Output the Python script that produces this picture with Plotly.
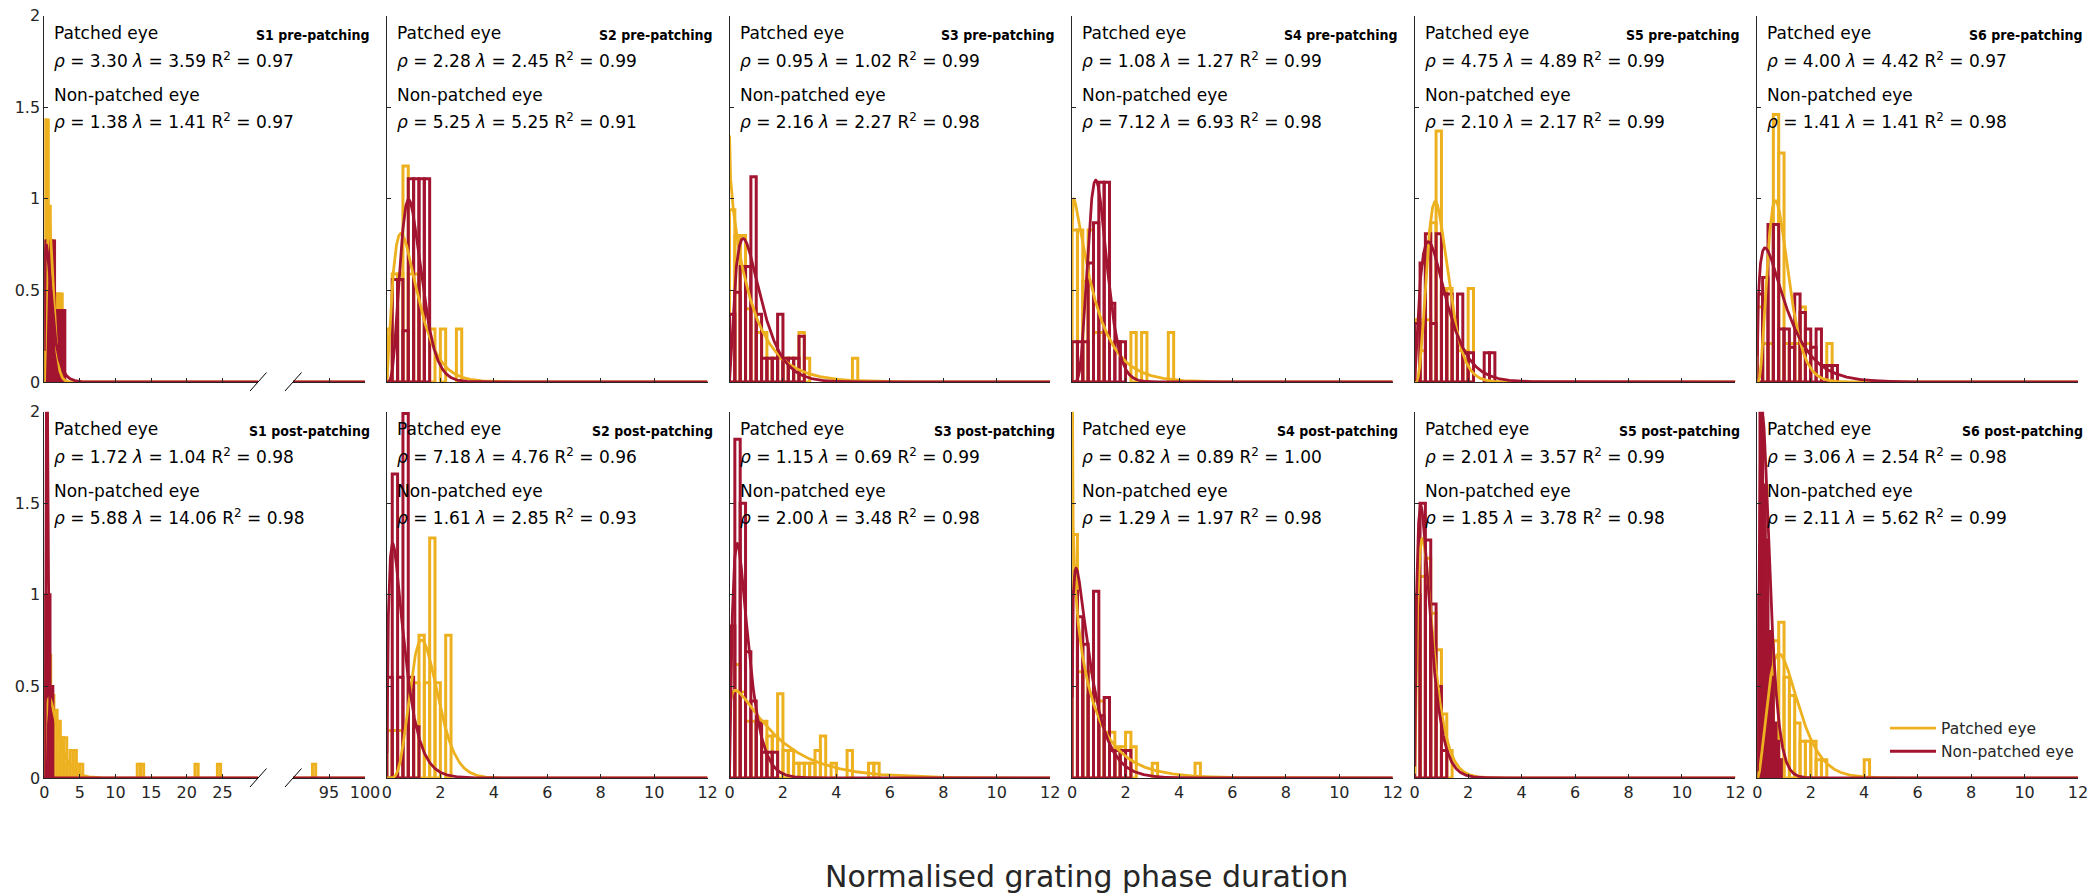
import math
import numpy as np
import plotly.graph_objects as go

W, H = 2093, 896
YELLOW = '#EDB120'
RED = '#A2142F'
FONT = 'DejaVu Sans'

subjects = ['S1', 'S2', 'S3', 'S4', 'S5', 'S6']
phases = ['pre-patching', 'post-patching']

# gamma fit parameters [row][col]
rho_p = [[3.30, 2.28, 0.95, 1.08, 4.75, 4.00], [1.72, 7.18, 1.15, 0.82, 2.01, 3.06]]
lam_p = [[3.59, 2.45, 1.02, 1.27, 4.89, 4.42], [1.04, 4.76, 0.69, 0.89, 3.57, 2.54]]
r2_p = [[0.97, 0.99, 0.99, 0.99, 0.99, 0.97], [0.98, 0.96, 0.99, 1.00, 0.99, 0.98]]
rho_n = [[1.38, 5.25, 2.16, 7.12, 2.10, 1.41], [5.88, 1.61, 2.00, 1.29, 1.85, 2.11]]
lam_n = [[1.41, 5.25, 2.27, 6.93, 2.17, 1.41], [14.06, 2.85, 3.48, 1.97, 3.78, 5.62]]
r2_n = [[0.97, 0.91, 0.98, 0.98, 0.99, 0.98], [0.98, 0.93, 0.98, 0.98, 0.98, 0.99]]

# histogram bin widths and heights (bins start at 0)
bw_p = [[0.28, 0.2, 0.2, 0.2, 0.2, 0.2], [0.45, 0.2, 0.2, 0.2, 0.2, 0.2]]
bw_n = [[0.36, 0.2, 0.2, 0.2, 0.2, 0.2], [0.4, 0.2, 0.2, 0.2, 0.2, 0.1]]

hist_p = [
    [
        [1.43, 1.43, 0.96, 0.77, 0.77, 0.48, 0.48, 0.48, 0.48],
        [0.29, 0.59, 0.59, 1.18, 0.59, 0.59, 0.59, 0, 0.29, 0, 0.29, 0, 0, 0.29],
        [0.94, 0.80, 0.80, 0.40, 0.40, 0.27, 0.27, 0.13, 0.13, 0.13, 0.13, 0.13, 0.13, 0.27, 0.13,
         0, 0, 0, 0, 0, 0, 0, 0, 0.13],
        [0.83, 0.83, 0.55, 0.83, 0.27, 0.27, 0.27, 0, 0, 0, 0, 0.27, 0, 0.27, 0, 0, 0, 0, 0.27],
        [0.34, 0.17, 0.34, 0.87, 1.37, 0.51, 0.51, 0.34, 0.17, 0.17, 0.51],
        [0.41, 0.21, 0.21, 1.46, 1.25, 0.21, 0.21, 0.21, 0.41, 0.21, 0, 0, 0, 0.21],
    ],
    [
        [0.60, 0.67, 0.45, 0.37, 0.31, 0.22, 0.22, 0.075, 0.15, 0.15, 0.075, 0.075],
        [0.26, 0.26, 0.26, 0, 0.52, 0.52, 0.78, 0.52, 1.31, 0.52, 0, 0.78],
        [0.47, 0.62, 0.47, 0.31, 0.31, 0.31, 0.31, 0.23, 0.23, 0.46, 0.15, 0.15, 0.08, 0.08, 0.08,
         0.08, 0.15, 0.23, 0, 0.08, 0, 0, 0.15, 0, 0, 0, 0.08, 0.08],
        [1.33, 0.58, 0.58, 0.58, 0.42, 0.42, 0.25, 0.25, 0.17, 0.17, 0.25, 0.17, 0, 0, 0, 0.08,
         0, 0, 0, 0, 0, 0, 0, 0.08],
        [0.75, 1.10, 1.20, 0.90, 0.70, 0.35, 0.15],
        [0.25, 0.45, 0.75, 0.75, 0.85, 0.55, 0.45, 0.30, 0.20, 0.20, 0.20, 0.10, 0.10, 0, 0, 0,
         0, 0, 0, 0, 0.10],
    ],
]
hist_n = [
    [
        [0.77, 0.77, 0.77, 0.77, 0.39, 0.39, 0.39, 0.39],
        [0, 0.56, 0.56, 0.28, 1.11, 1.11, 1.11, 1.11],
        [0.37, 0.49, 0.63, 0.63, 1.12, 0.37, 0.13, 0.13, 0.13, 0.37, 0.13, 0.13, 0.13, 0.25],
        [0.22, 0.22, 0.22, 0.65, 0.87, 1.09, 1.09, 0.43, 0.22, 0.22],
        [0.32, 0.65, 0.81, 0.32, 0.81, 0.48, 0.48, 0.32, 0.48, 0.16, 0.16, 0, 0, 0.16, 0.16],
        [0.48, 0.57, 0.86, 0.86, 0.29, 0.29, 0.19, 0.48, 0.38, 0.29, 0.19, 0.29, 0.09, 0.09, 0.09],
    ],
    [
        [1.0, 1.0, 0.5],
        [0.55, 1.66, 0.55, 1.99, 0.55, 0.28],
        [0.83, 1.85, 1.50, 0.69, 0.42, 0.30, 0.14, 0.14, 0.14],
        [1.02, 0.88, 0.73, 0.45, 1.02, 0.34, 0.44, 0.15, 0.15, 0.15, 0.15],
        [1.00, 1.50, 1.30, 0.95, 0.50, 0.15],
        [1.0, 2.0, 1.6, 1.3, 0.8, 0.55, 0.3, 0.2, 0.1],
    ],
]
# S1 post-patching, patched eye: isolated long phases (bin left edges)
s1_post_out_x = [13.05, 13.5, 21.15, 24.3, 92.7]
s1_post_out_h = [0.075, 0.075, 0.075, 0.075, 0.075]

# geometry (pixels)
L0, CW, PW = 44.3, 342.6, 320.7
ROW_TOP = [15.7, 411.7]
PH = 366.3
S1_LEFT_END, S1_RIGHT_START = 258.0, 293.0
BAR_LW = 3
CURVE_LW = 2.8


def px_x(p):
    return p / W


def px_y(p):
    return 1 - p / H


def gpdf(x, k, lam):
    return lam ** k * x ** (k - 1) * np.exp(-lam * x) / math.gamma(k)


fig = go.Figure()
layout = {}
annotations = []
shapes = []


def axname(n, kind):
    return kind if n == 1 else f'{kind}{n}'


def bar_marker(col):
    return dict(color='rgba(0,0,0,0)', line=dict(color=col, width=BAR_LW))


for r in range(2):
    for c in range(6):
        n = r * 6 + 1 + c
        xa, ya = axname(n, 'x'), axname(n, 'y')
        left = L0 + c * CW
        right = left + PW
        top = ROW_TOP[r]
        bottom = top + PH
        broken = (c == 0)
        xdom_right = S1_LEFT_END if broken else right
        common = dict(ticks='inside', ticklen=4, tickcolor='#262626', showline=True,
                      linecolor='#262626', linewidth=1, showgrid=False, zeroline=False,
                      automargin=False,
                      tickfont=dict(size=16, family=FONT, color='#262626'), fixedrange=True)
        xaxis = dict(domain=[px_x(left), px_x(xdom_right)], anchor=ya,
                     range=[0, 30] if broken else [0, 12],
                     tickvals=[0, 5, 10, 15, 20, 25] if broken else [0, 2, 4, 6, 8, 10, 12],
                     showticklabels=(r == 1), **common)
        yaxis = dict(domain=[px_y(bottom), px_y(top)], anchor=xa, range=[0, 2],
                     tickvals=[0, 0.5, 1, 1.5, 2], ticktext=['0', '0.5', '1', '1.5', '2'],
                     showticklabels=(c == 0), **common)
        layout['xaxis' if n == 1 else f'xaxis{n}'] = xaxis
        layout['yaxis' if n == 1 else f'yaxis{n}'] = yaxis
        x_targets = [(xa, 0, 30 if broken else 12)]
        if broken:
            m = 13 + r
            xr = f'x{m}'
            layout[f'xaxis{m}'] = dict(domain=[px_x(S1_RIGHT_START), px_x(right)], anchor=ya,
                                       range=[90, 100], tickvals=[95, 100],
                                       showticklabels=(r == 1), **common)
            x_targets.append((xr, 90, 100))
            for xe in (S1_LEFT_END, S1_RIGHT_START):
                shapes.append(dict(type='line', xref='paper', yref='paper',
                                   x0=px_x(xe - 8), y0=px_y(bottom + 9),
                                   x1=px_x(xe + 8.5), y1=px_y(bottom - 9.5),
                                   line=dict(color='black', width=1)))

        # histograms
        for hs, w, col in ((hist_p[r][c], bw_p[r][c], YELLOW), (hist_n[r][c], bw_n[r][c], RED)):
            xs = [(i + 0.5) * w for i, h in enumerate(hs) if h > 0]
            ys = [h for h in hs if h > 0]
            if broken and r == 1 and col == YELLOW:
                for ox, oh in zip(s1_post_out_x, s1_post_out_h):
                    if ox < 30:
                        xs.append(ox + w / 2)
                        ys.append(oh)
                fig.add_trace(go.Bar(x=[ox + w / 2 for ox in s1_post_out_x if ox > 90],
                                     y=[oh for ox, oh in zip(s1_post_out_x, s1_post_out_h) if ox > 90],
                                     width=w, xaxis=x_targets[1][0], yaxis=ya,
                                     marker=bar_marker(col), showlegend=False, hoverinfo='skip'))
            fig.add_trace(go.Bar(x=xs, y=ys, width=w, xaxis=xa, yaxis=ya,
                                 marker=bar_marker(col), showlegend=False, hoverinfo='skip'))
        # fitted gamma curves
        for k, lam, col, name in ((rho_p[r][c], lam_p[r][c], YELLOW, 'Patched eye'),
                                  (rho_n[r][c], lam_n[r][c], RED, 'Non-patched eye')):
            for (axx, x0, x1) in x_targets:
                xg = np.linspace(max(x0, 0.002), x1, 3000)
                fig.add_trace(go.Scatter(x=xg, y=gpdf(xg, k, lam), mode='lines',
                                         line=dict(color=col, width=CURVE_LW), xaxis=axx, yaxis=ya,
                                         name=name, showlegend=(r == 1 and c == 5 and axx == xa),
                                         hoverinfo='skip'))

        # texts
        tx = px_x(left + 8)
        lines = [
            ('Patched eye', 17),
            ('<i>ρ</i> = %.2f <i>λ</i> = %.2f R<sup>2</sup> = %.2f' % (rho_p[r][c], lam_p[r][c], r2_p[r][c]), 44),
            ('Non-patched eye', 79),
            ('<i>ρ</i> = %.2f <i>λ</i> = %.2f R<sup>2</sup> = %.2f' % (rho_n[r][c], lam_n[r][c], r2_n[r][c]), 105),
        ]
        for txt, dy in lines:
            annotations.append(dict(text=txt, x=tx, y=px_y(top + dy), xref='paper', yref='paper',
                                    xanchor='left', yanchor='middle', showarrow=False,
                                    font=dict(size=17, family=FONT, color='black')))
        annotations.append(dict(text='%s %s' % (subjects[c], phases[r]), x=px_x(right + 7),
                                y=px_y(top + 19), xref='paper', yref='paper', xanchor='right',
                                yanchor='middle', showarrow=False,
                                font=dict(size=14, family='DejaVu Sans Condensed, DejaVu Sans',
                                          color='black', weight='bold')))

annotations.append(dict(text='Normalised grating phase duration', x=px_x(1086), y=px_y(876),
                        xref='paper', yref='paper', xanchor='center', yanchor='middle',
                        showarrow=False, font=dict(size=30, family=FONT, color='#262626')))

layout.update(dict(width=W, height=H, margin=dict(l=0, r=0, t=0, b=0, pad=0, autoexpand=False),
                   paper_bgcolor='white', plot_bgcolor='white', barmode='overlay',
                   annotations=annotations, shapes=shapes,
                   legend=dict(x=px_x(1885), y=px_y(740), xanchor='left', yanchor='middle',
                               bgcolor='rgba(0,0,0,0)', itemwidth=46,
                               font=dict(size=15.5, family=FONT, color='#262626'),
                               tracegroupgap=0),
                   font=dict(family=FONT)))
fig.update_layout(**layout)
fig.write_html('out.html', config={'displayModeBar': False},
               post_script="document.body.style.margin='0';document.body.style.overflow='hidden';")
